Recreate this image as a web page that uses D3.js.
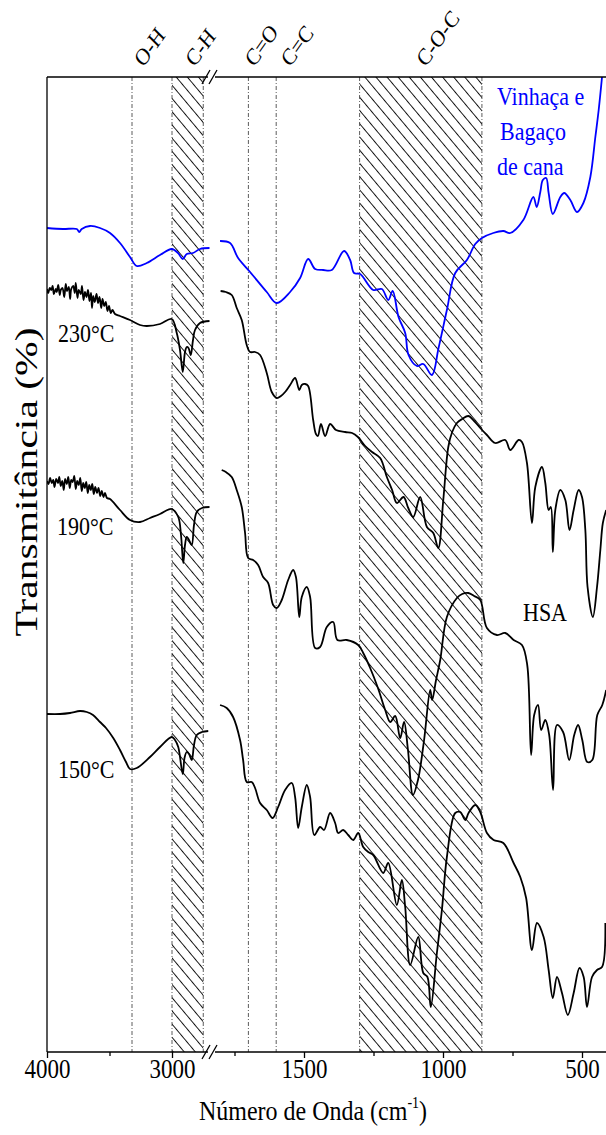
<!DOCTYPE html>
<html><head><meta charset="utf-8">
<script src="https://cdn.jsdelivr.net/npm/d3@7"></script>
<style>body{margin:0;background:#fff}svg{display:block}</style>
</head><body><svg id="c" width="606" height="1135"></svg>
<script>
// ---------- DATA ----------
const leftTicks = [4000, 3000];
const leftMinor = [3500];
const rightTicks = [1500, 1000, 500];
const rightMinor = [1750, 1250, 750];
const leftBondLines = [3320];
const rightBondLines = [1700, 1600];
const leftHatch = [[3000, 2750]];
const rightHatch = [[1300, 860]];
const bondLabels = ["O-H", "C-H", "C=O", "C=C", "C-O-C"];
const bondLabelWn = [3230, 2820, 1680, 1550, 1063];
const bondLabelSeg = ["L", "L", "R", "R", "R"];

// Vinhaça e Bagaço de cana (blue)
const blueL = [[4000,82.4],[3872,82.3],[3762,82.3],[3742,82.0],[3722,82.3],[3656,82.6],[3576,82.4],[3496,81.9],[3416,80.9],[3336,79.5],[3282,78.6],[3202,78.9],[3096,79.7],[3002,80.3],[2952,79.9],[2914,79.3],[2882,79.8],[2832,79.9],[2776,80.3],[2700,80.4]];
const blueR = [[1802,81.1],[1766,80.9],[1737,79.4],[1694,78.0],[1634,76.0],[1598,74.9],[1550,76.0],[1514,77.4],[1485,79.3],[1460,78.3],[1431,78.2],[1400,78.2],[1356,80.1],[1334,79.2],[1320,77.9],[1298,77.8],[1251,76.2],[1220,76.3],[1197,75.2],[1181,76.1],[1160,73.5],[1136,71.9],[1124,69.7],[1094,68.6],[1071,68.8],[1040,67.7],[1016,70.4],[986,74.2],[956,77.9],[914,79.2],[884,80.8],[860,81.4],[819,81.9],[783,82.1],[758,81.9],[711,83.2],[675,85.5],[663,84.5],[650,86.0],[641,87.2],[629,87.4],[620,85.9],[605,83.8],[578,85.5],[564,85.9],[542,85.2],[518,84.0],[495,84.9],[470,87.5],[452,91.5],[440,94.2],[428,97.5],[410,103]];

// 230 °C
const s230L = [[4000,76.3],[3990,75.9],[3978,76.4],[3966,76.2],[3955,76.6],[3945,75.8],[3930,76.3],[3922,76.0],[3910,76.7],[3898,75.7],[3890,76.2],[3876,76.4],[3862,75.5],[3850,76.8],[3840,76.1],[3826,76.5],[3815,75.3],[3806,76.3],[3790,76.6],[3778,75.9],[3770,76.9],[3756,75.4],[3746,76.2],[3730,75.8],[3720,76.6],[3708,75.2],[3696,76.0],[3684,75.5],[3672,76.2],[3660,75.1],[3648,75.9],[3640,74.4],[3630,75.6],[3618,75.0],[3604,75.8],[3592,74.9],[3580,75.5],[3566,74.4],[3556,75.3],[3542,74.6],[3530,75.0],[3516,74.1],[3504,74.6],[3490,73.9],[3476,74.2],[3456,73.8],[3416,73.6],[3336,73.2],[3256,72.7],[3202,72.6],[3096,72.8],[3002,73.3],[2962,71.9],[2936,70.2],[2914,68.0],[2896,70.0],[2882,70.5],[2868,70.4],[2850,69.7],[2832,71.2],[2816,72.2],[2776,72.9],[2700,73.1]];
const s230R = [[1800,76.1],[1781,76.0],[1760,75.7],[1742,74.4],[1724,73.2],[1706,70.7],[1694,70.0],[1676,70.0],[1658,69.7],[1634,67.9],[1616,66.0],[1598,65.4],[1583,65.6],[1568,66.0],[1550,66.7],[1532,67.4],[1517,66.2],[1508,66.7],[1496,66.8],[1485,66.6],[1467,63.2],[1457,61.8],[1450,61.6],[1439,62.8],[1424,61.6],[1406,62.8],[1385,62.2],[1352,62.0],[1327,61.9],[1306,61.5],[1280,60.6],[1255,60.0],[1226,59.4],[1202,57.5],[1183,56.2],[1166,54.9],[1142,55.5],[1125,54.4],[1107,53.5],[1082,55.5],[1058,52.5],[1035,51.9],[1017,50.4],[999,55.2],[981,60.5],[967,62.0],[950,62.9],[931,63.3],[909,63.6],[888,63.1],[866,62.4],[842,61.7],[812,60.9],[776,61.2],[758,60.2],[728,61.2],[716,61.0],[698,58.9],[680,52.9],[668,56.5],[644,58.5],[632,56.9],[620,54.2],[612,54.5],[605,50.0],[596,54.2],[578,56.2],[560,55.2],[545,52.2],[530,54.2],[512,56.2],[500,55.5],[488,52.2],[480,46.5],[461,43.5],[446,46.5],[434,50.2],[425,52.9],[413,54.2]];

// 190 °C
const s190L = [[4000,57.1],[3988,56.8],[3975,57.4],[3962,56.9],[3950,57.2],[3940,56.5],[3926,57.3],[3912,56.9],[3902,57.5],[3890,56.6],[3878,57.1],[3866,56.2],[3855,57.3],[3842,56.8],[3830,57.5],[3818,56.4],[3806,57.2],[3795,57.0],[3782,57.6],[3770,56.3],[3758,57.1],[3746,56.7],[3734,57.4],[3722,56.1],[3710,56.9],[3698,56.4],[3686,57.0],[3674,55.9],[3662,56.7],[3650,56.2],[3638,56.8],[3626,55.8],[3614,56.5],[3600,55.9],[3588,56.4],[3574,55.6],[3562,56.1],[3548,55.5],[3536,55.9],[3520,55.4],[3496,55.3],[3416,54.2],[3336,53.2],[3256,53.0],[3176,53.4],[3096,53.8],[3002,54.3],[2950,53.5],[2928,51.7],[2910,48.9],[2896,50.7],[2882,51.5],[2864,51.2],[2842,50.7],[2824,52.7],[2802,54.0],[2760,54.4],[2700,54.5]];
const s190R = [[1796,58.2],[1781,58.0],[1760,57.5],[1742,56.2],[1724,54.5],[1712,51.9],[1701,49.4],[1683,49.2],[1665,48.7],[1647,47.5],[1629,46.9],[1611,44.7],[1598,44.4],[1580,45.2],[1557,47.2],[1539,48.2],[1529,47.5],[1517,43.5],[1508,45.5],[1490,46.5],[1478,45.5],[1460,40.4],[1442,40.5],[1418,42.5],[1395,43.0],[1380,41.2],[1346,41.2],[1305,40.7],[1287,39.9],[1262,38.4],[1234,36.4],[1208,34.2],[1190,33.0],[1172,33.6],[1154,31.4],[1140,33.0],[1126,30.2],[1108,25.7],[1090,27.2],[1068,31.2],[1046,36.2],[1039,35.2],[1025,37.2],[1010,39.2],[986,43.5],[950,45.4],[931,45.8],[909,45.9],[888,45.6],[866,45.2],[842,42.4],[806,41.7],[776,41.9],[746,41.2],[716,40.7],[697,38.7],[683,29.7],[672,33.7],[658,34.7],[647,32.2],[632,33.2],[618,31.7],[604,26.2],[590,32.7],[568,32.0],[546,29.2],[528,31.7],[514,32.7],[499,31.2],[481,29.0],[463,29.2],[445,33.7],[427,34.7],[413,36.2]];

// 150 °C
const s150L = [[4000,33.8],[3896,33.8],[3816,33.9],[3736,34.1],[3682,34.0],[3632,33.7],[3576,33.0],[3528,32.4],[3470,31.4],[3416,30.2],[3368,29.0],[3336,28.3],[3282,28.4],[3176,29.5],[3096,30.5],[3002,31.5],[2976,31.2],[2950,30.5],[2914,27.8],[2900,29.4],[2882,30.0],[2864,29.8],[2842,29.2],[2824,30.7],[2802,31.7],[2760,32.0],[2710,32.1]];
const s150R = [[1802,34.7],[1778,34.4],[1755,33.5],[1730,31.2],[1719,29.2],[1706,27.0],[1688,27.0],[1676,26.4],[1658,24.9],[1634,24.2],[1613,23.4],[1593,24.5],[1568,26.2],[1544,26.9],[1532,25.5],[1521,22.4],[1508,24.5],[1490,26.7],[1478,25.5],[1463,21.7],[1442,22.5],[1428,22.2],[1406,23.9],[1388,22.9],[1377,21.9],[1359,22.2],[1341,21.7],[1323,21.2],[1305,21.9],[1287,20.5],[1269,20.0],[1251,19.7],[1215,17.9],[1197,18.9],[1166,14.7],[1148,17.2],[1136,14.5],[1118,8.7],[1089,11.5],[1071,7.9],[1056,7.5],[1044,4.5],[1022,9.9],[1004,14.2],[986,19.5],[956,23.9],[938,24.0],[920,23.2],[908,23.9],[884,24.7],[866,24.0],[842,21.9],[818,21.2],[783,20.9],[746,18.9],[722,17.5],[701,15.4],[680,10.2],[662,12.9],[638,11.5],[620,8.2],[605,5.4],[590,7.5],[572,5.9],[551,3.7],[530,5.9],[509,8.4],[494,7.5],[482,4.5],[464,7.5],[446,8.2],[428,8.5],[416,12.9]];

const seriesL = [blueL, s230L, s190L, s150L];
const seriesR = [blueR, s230R, s190R, s150R];
const seriesColor = ["#0000ff", "#000", "#000", "#000"];
const seriesText = [["Vinhaça e", " Bagaço", "de cana"], ["230°C"], ["190°C"], ["150°C"]];

// ---------- LAYOUT ----------
const svg = d3.select("#c");
const T = 77, B = 1052, L0 = 47, RE = 606;
const xL = d3.scaleLinear().domain([4000, 2700]).range([47, 209.5]);
const xR = d3.scaleLinear().domain([1500, 500]).range([304, 582]);
const y = d3.scaleLinear().domain([0, 100]).range([1052, 52]);
const breakL = 208, breakR = 215;
const font = "'Liberation Serif','Times New Roman',serif";
const SY = 1.18; // vertical stretch of the lettering

const defs = svg.append("defs");
const pat = defs.append("pattern").attr("id", "hatch").attr("patternUnits", "userSpaceOnUse")
  .attr("width", 8.5).attr("height", 8.5).attr("patternTransform", "rotate(-40)");
pat.append("line").attr("x1", 0.5).attr("y1", -1).attr("x2", 0.5).attr("y2", 10)
  .attr("stroke", "#000").attr("stroke-width", 0.9);
defs.append("clipPath").attr("id", "clipL").append("rect")
  .attr("x", L0).attr("y", T).attr("width", breakR - L0 - 3).attr("height", B - T);
defs.append("clipPath").attr("id", "clipR").append("rect")
  .attr("x", breakR).attr("y", T).attr("width", RE - breakR).attr("height", B - T);

// hatched bands
const bandStyle = sel => sel.attr("fill", "url(#hatch)");
leftHatch.forEach(([a, b]) => {
  svg.append("rect").attr("x", xL(a)).attr("y", T).attr("width", xL(b) - xL(a)).attr("height", B - T).call(bandStyle);
});
rightHatch.forEach(([a, b]) => {
  svg.append("rect").attr("x", xR(a)).attr("y", T).attr("width", xR(b) - xR(a)).attr("height", B - T).call(bandStyle);
});
// dash-dot vertical lines
const vl = (x) => svg.append("line").attr("x1", x).attr("x2", x).attr("y1", T).attr("y2", B)
  .attr("stroke", "#333").attr("stroke-width", 0.8).attr("stroke-dasharray", "4,2,1,2");
leftBondLines.forEach(w => vl(xL(w)));
rightBondLines.forEach(w => vl(xR(w)));
leftHatch.forEach(([a, b]) => { vl(xL(a)); vl(xL(b)); });
rightHatch.forEach(([a, b]) => { vl(xR(a)); vl(xR(b)); });

// spectra
const lineL = d3.line().x(d => xL(d[0])).y(d => y(d[1])).curve(d3.curveCatmullRom.alpha(0.5));
const lineR = d3.line().x(d => xR(d[0])).y(d => y(d[1])).curve(d3.curveCatmullRom.alpha(0.5));
seriesL.forEach((s, i) => {
  svg.append("path").attr("d", lineL(s)).attr("fill", "none").attr("stroke", seriesColor[i])
    .attr("stroke-width", 1.8).attr("stroke-linejoin", "round").attr("clip-path", "url(#clipL)");
});
seriesR.forEach((s, i) => {
  svg.append("path").attr("d", lineR(s)).attr("fill", "none").attr("stroke", seriesColor[i])
    .attr("stroke-width", 1.8).attr("stroke-linejoin", "round").attr("clip-path", "url(#clipR)");
});

// axes frame
const ax = svg.append("g").attr("stroke", "#000").attr("stroke-width", 1.3);
ax.append("line").attr("x1", L0).attr("x2", L0).attr("y1", T).attr("y2", B);
ax.append("line").attr("x1", L0).attr("x2", breakL).attr("y1", B).attr("y2", B);
ax.append("line").attr("x1", breakR).attr("x2", RE).attr("y1", B).attr("y2", B);
ax.append("line").attr("x1", L0).attr("x2", breakL).attr("y1", T).attr("y2", T);
ax.append("line").attr("x1", breakR).attr("x2", RE).attr("y1", T).attr("y2", T);
// break marks
[T, B].forEach(yy => {
  [breakL - 2, breakR - 2].forEach(bx => {
    svg.append("line").attr("x1", bx - 4).attr("y1", yy + 7).attr("x2", bx + 4).attr("y2", yy - 7)
      .attr("stroke", "#000").attr("stroke-width", 1.3);
  });
});

// ticks via d3 axes
function drawAxis(scale, major, minor) {
  const g = svg.append("g").attr("transform", `translate(0,${B})`);
  g.call(d3.axisBottom(scale).tickValues(major).tickSize(6).tickFormat(d3.format("d")));
  g.select(".domain").remove();
  g.selectAll("line").attr("stroke", "#000").attr("stroke-width", 1.3);
  g.selectAll("text").attr("font-family", font).attr("font-size", 23).attr("fill", "#000")
    .attr("y", 0).attr("dy", 0)
    .attr("transform", d => `translate(0,${26}) scale(1,${SY})`);
  const g2 = svg.append("g").attr("transform", `translate(0,${B})`);
  g2.call(d3.axisBottom(scale).tickValues(minor).tickSize(4).tickFormat(""));
  g2.select(".domain").remove();
  g2.selectAll("line").attr("stroke", "#000").attr("stroke-width", 1.3);
}
drawAxis(xL, leftTicks, leftMinor);
drawAxis(xR, rightTicks, rightMinor);

// bond labels (rotated)
bondLabels.forEach((t, i) => {
  const x = bondLabelSeg[i] === "L" ? xL(bondLabelWn[i]) : xR(bondLabelWn[i]);
  svg.append("text").attr("transform", `translate(${x},68) scale(1,${SY}) rotate(-50)`)
    .attr("font-family", font).attr("font-size", 20).text(t);
});

// series labels
const lab = (txt, x, yy, col) => svg.append("text").attr("transform", `translate(${x},${yy}) scale(1,${SY})`)
  .attr("font-family", font).attr("font-size", 22).attr("fill", col).text(txt);
lab(seriesText[0][0], 497, 105, "#0000ff");
lab(seriesText[0][1], 500, 140, "#0000ff");
lab(seriesText[0][2], 497, 175, "#0000ff");
lab(seriesText[1][0], 58, 342, "#000");
lab(seriesText[2][0], 57, 535, "#000");
lab(seriesText[3][0], 58, 778, "#000");
lab("HSA", 523, 621, "#000");

// axis titles
svg.append("text").attr("transform", "translate(37,482) scale(1,1.3) rotate(-90)").attr("text-anchor", "middle")
  .attr("font-family", font).attr("font-size", 32).text("Transmitância (%)");
const xt = svg.append("text").attr("transform", `translate(313,1120) scale(1,${SY})`).attr("text-anchor", "middle")
  .attr("font-family", font).attr("font-size", 24);
xt.append("tspan").text("Número de Onda (cm");
xt.append("tspan").attr("font-size", 14).attr("dy", -10).text("-1");
xt.append("tspan").attr("dy", 10).text(")");
</script></body></html>
